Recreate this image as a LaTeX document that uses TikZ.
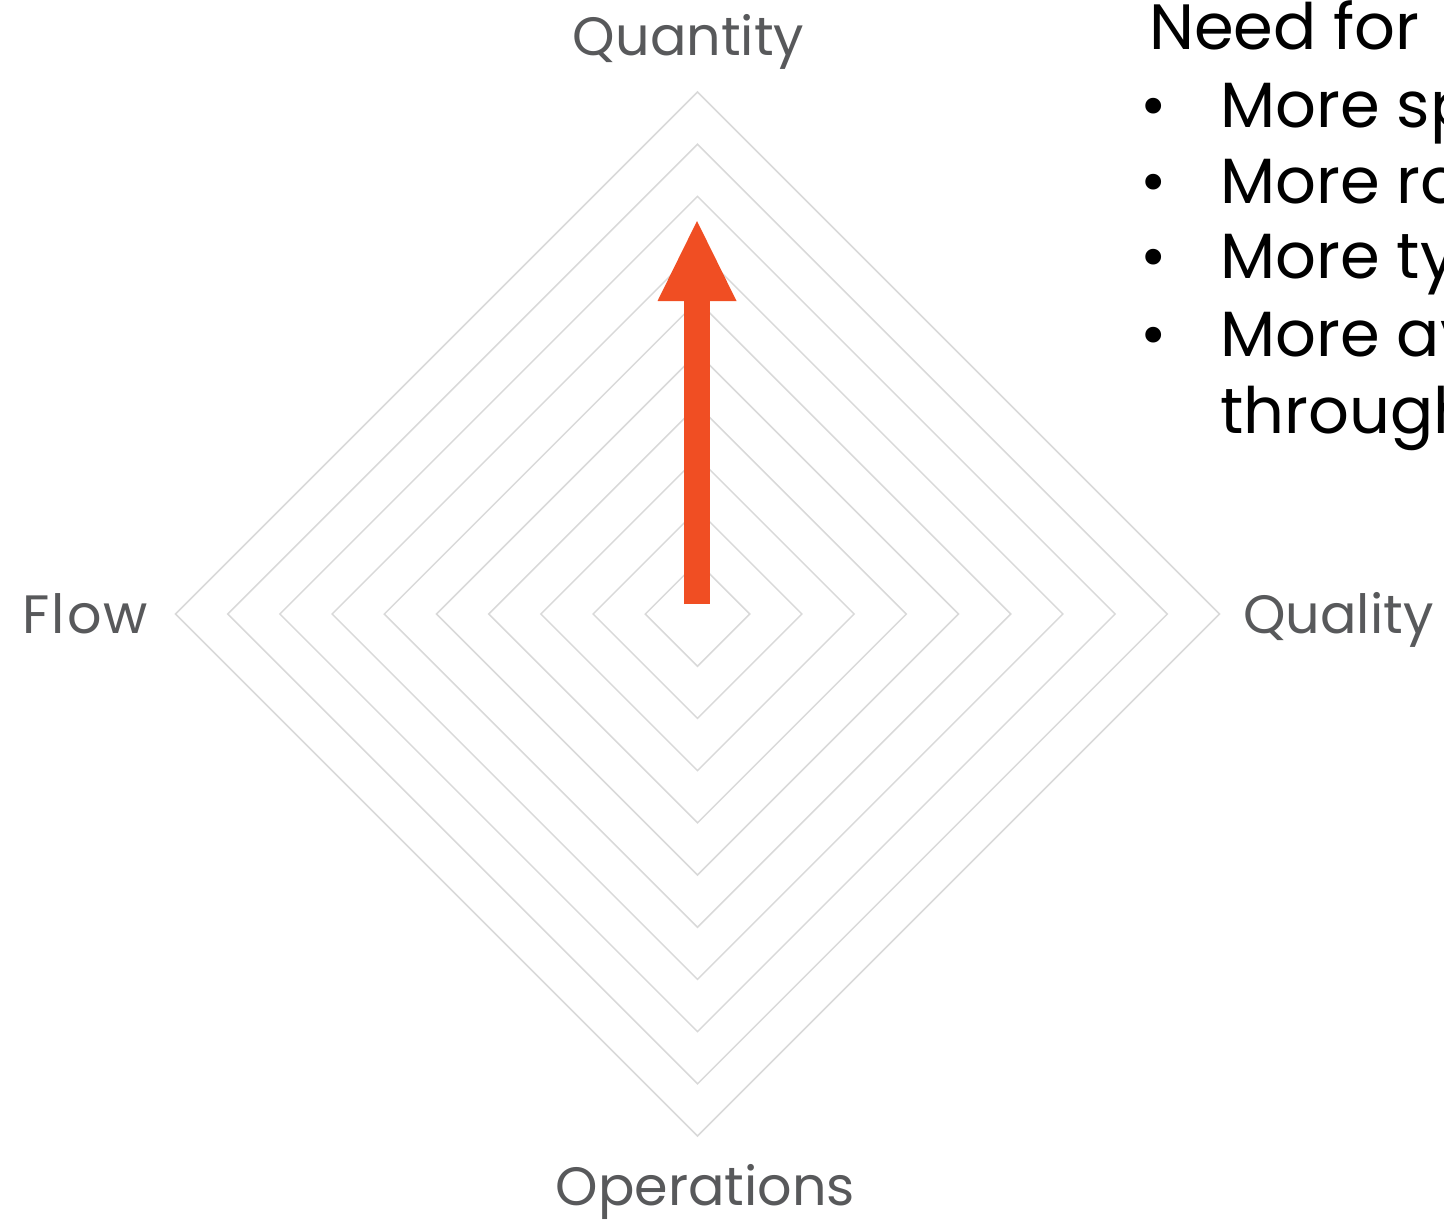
\documentclass[tikz,border=0pt]{standalone}
\usepackage{fontspec}
\setmainfont{Poppins}
\usetikzlibrary{arrows.meta}
\definecolor{labelgray}{HTML}{58595B}
\definecolor{ringgray}{HTML}{D9D9D9}
\definecolor{psorange}{HTML}{F04E23}
\tikzset{
	ring/.style={draw=ringgray, line width=1.5pt},
	axislabel/.style={text=labelgray, inner sep=0pt, font=\fontsize{54}{60}\selectfont},
	listtext/.style={text=black, inner sep=0pt, font=\fontsize{64}{77}\selectfont},
	bigarrow/.style={psorange, line width=26pt, -{Triangle[length=80pt,width=79pt,line width=0pt]}}
}

\begin{document}
\begin{tikzpicture}[x=1pt,y=-1pt]
	\useasboundingbox (0,0) rectangle (1444,1219);
	\coordinate (c) at (697.5,614);
	
	% draw rings
	\foreach \r in {1,...,10}
	\draw[ring] (c) +(0:{\r*52.2}) -- +(90:{\r*52.2}) -- +(180:{\r*52.2}) -- +(270:{\r*52.2}) -- cycle;
	
	% draw axis labels
	\node[axislabel, anchor=base] (quantity) at (688.5,55) {Quantity};
	\node[axislabel, anchor=base west] (flow) at (22,633) {\addfontfeatures{LetterSpace=4}Flow};
	\node[axislabel, anchor=base west] (quality) at (1243,633) {Quality};
	\node[axislabel, anchor=base] (operations) at (705.5,1205) {Operations};
	
	% draw arrow
	\coordinate (arrowbase) at (697,604);
	\coordinate (arrowtip) at (697,221);
	\draw[bigarrow] (arrowbase) -- (arrowtip);
	
	% draw list
	\node[listtext, anchor=base west] (need) at (1149,49) {Need for};
	\foreach \y/\txt [count=\i] in {127/More sp, 203/More ro, 278/More ty, 356/More av}
	{
		\node[listtext, anchor=base] (bullet\i) at (1154,\y) {\textbullet};
		\node[listtext, anchor=base west] (item\i) at (1220,\y) {\txt};
	}
	\node[listtext, anchor=base west] (item5) at (1220,433) {through};
\end{tikzpicture}
\end{document}
